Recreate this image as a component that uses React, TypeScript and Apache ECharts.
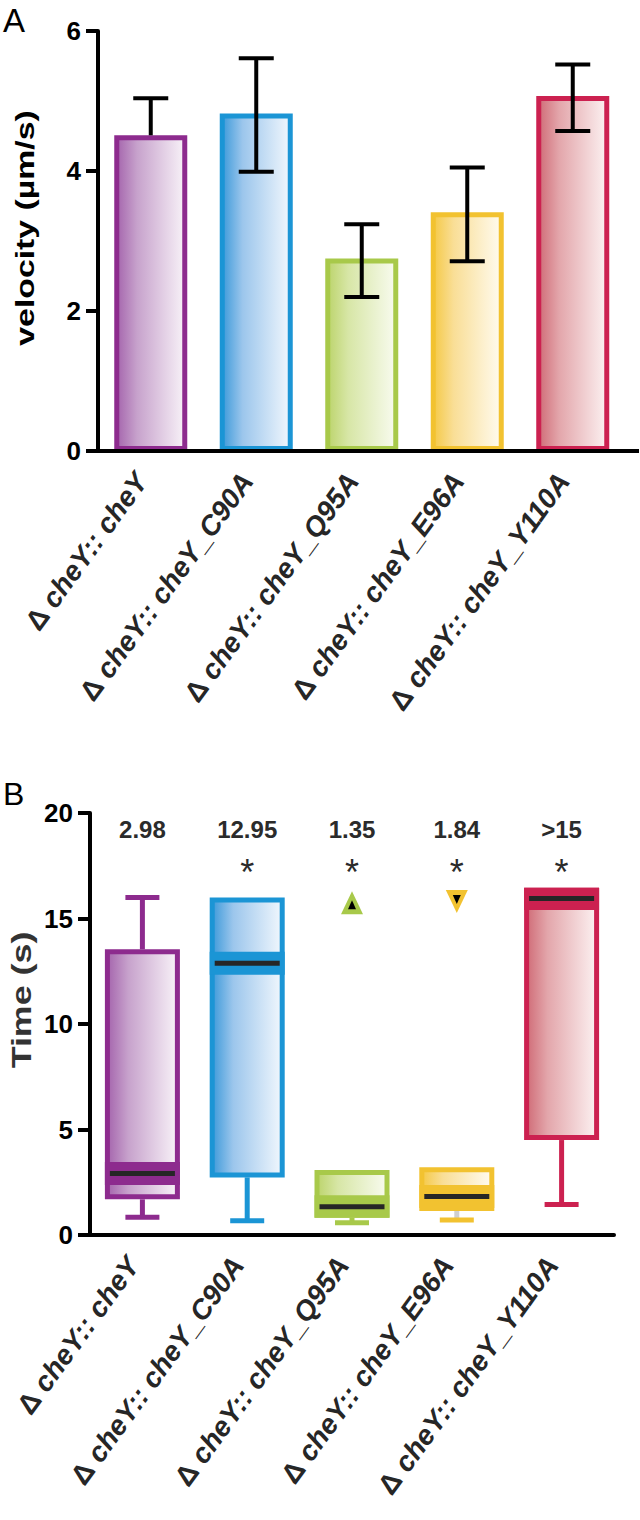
import React, { useEffect, useRef } from 'react';
import * as echarts from 'echarts';

// ---------- DATA ----------
const categories = [
  'Δ cheY:: cheY',
  'Δ cheY:: cheY_C90A',
  'Δ cheY:: cheY_Q95A',
  'Δ cheY:: cheY_E96A',
  'Δ cheY:: cheY_Y110A',
];

// Panel A: velocity (µm/s)
const velocity = [4.51, 4.82, 2.75, 3.41, 5.07];
const velErrLow = [4.51, 3.99, 2.2, 2.71, 4.57];
const velErrHigh = [5.04, 5.61, 3.24, 4.05, 5.52];

// Panel B: Time (s) box plots
const timeMin = [0.84, 0.68, 0.58, 0.71, 1.45];
const timeQ1 = [1.69, 2.73, 0.82, 1.14, 4.5];
const timeMedian = [2.92, 12.88, 1.34, 1.82, 15.95];
const timeQ3 = [13.54, 16.0, 3.08, 3.21, 16.46];
const timeMax = [16.0, 16.0, 3.08, 3.21, 16.46];
const medianLabels = ['2.98', '12.95', '1.35', '1.84', '>15'];
const significant = [false, true, true, true, true];
const outlierUp = [[2, 15.75]];
const outlierDown = [[3, 15.8]];

// ---------- STYLES ----------
const borderColors = ['#8D2B8E', '#1B95D5', '#A8C94A', '#F2C230', '#CC2150'];
const gradStops = [
  ['#A565AD', '#C7A2CC', '#F8F2F8'],
  ['#3D9ADA', '#9CC6EC', '#F1F7FD'],
  ['#BCD46C', '#D7E6A6', '#F8FBEF'],
  ['#F5C946', '#F9DE96', '#FFFBF0'],
  ['#D06C77', '#E3A6AB', '#FCF1F1'],
];
const stemColors = ['#8D2B8E', '#1B95D5', '#A8C94A', '#CFCFCF', '#CC2150'];

const FONT = '"Liberation Sans", Arial, Helvetica, sans-serif';

function grad(i: number) {
  const s = gradStops[i];
  return new echarts.graphic.LinearGradient(0, 0, 1, 0, [
    { offset: 0, color: s[0] },
    { offset: 0.3, color: s[1] },
    { offset: 1, color: s[2] },
  ]);
}

const xLabel = (rot: number, margin: number) => ({
  interval: 0,
  rotate: rot,
  margin,
  formatter: (v: string) => `{d|${v.slice(0, 1)}}{i| ${v.slice(2)}}`,
  rich: {
    d: { fontFamily: FONT, fontSize: 28, fontWeight: 'bold', color: '#262626' },
    i: {
      fontFamily: FONT,
      fontSize: 28,
      fontWeight: 'bold',
      fontStyle: 'italic',
      color: '#262626',
      padding: [0, 16, 0, 0],
    },
  },
});

export default function App() {
  const ref = useRef<HTMLDivElement>(null);
  useEffect(() => {
    if (!ref.current) return;
    const chart = echarts.init(ref.current, undefined, { renderer: 'svg' });

    const axisLineStyle = { color: '#000', width: 4 };

    const annotationLabel = (extra: any) => ({
      show: true,
      position: 'inside',
      fontFamily: FONT,
      color: '#2b2b2b',
      textBorderWidth: 0,
      ...extra,
    });

    const option: any = {
      animation: false,
      backgroundColor: '#fff',
      grid: [
        { left: 98, top: 31, width: 527.5, height: 420 },
        { left: 90, top: 813, width: 524, height: 422 },
      ],
      xAxis: [
        {
          gridIndex: 0,
          type: 'category',
          data: categories,
          z: 10,
          axisLine: { lineStyle: axisLineStyle },
          axisTick: { alignWithLabel: true, length: 12, lineStyle: { color: '#000', width: 4 } },
          axisLabel: xLabel(54, 12),
        },
        {
          gridIndex: 1,
          type: 'category',
          data: categories,
          z: 10,
          axisLine: { lineStyle: axisLineStyle },
          axisTick: { alignWithLabel: true, length: 12, lineStyle: { color: '#000', width: 4 } },
          axisLabel: xLabel(54, 12),
        },
      ],
      yAxis: [
        {
          gridIndex: 0,
          type: 'value',
          min: 0,
          max: 6,
          interval: 2,
          z: 10,
          splitLine: { show: false },
          axisLine: { show: true, lineStyle: axisLineStyle },
          axisTick: { show: true, length: 12, lineStyle: { color: '#000', width: 4 } },
          axisLabel: { fontFamily: FONT, fontSize: 26, fontWeight: 'bold', color: '#000', margin: 17 },
        },
        {
          gridIndex: 1,
          type: 'value',
          min: 0,
          max: 20,
          interval: 5,
          z: 10,
          splitLine: { show: false },
          axisLine: { show: true, lineStyle: axisLineStyle },
          axisTick: { show: true, length: 12, lineStyle: { color: '#000', width: 4 } },
          axisLabel: { fontFamily: FONT, fontSize: 26, fontWeight: 'bold', color: '#000', margin: 17 },
        },
      ],
      series: [
        {
          type: 'bar',
          xAxisIndex: 0,
          yAxisIndex: 0,
          barWidth: 73,
          data: velocity.map((v, i) => ({
            value: v,
            itemStyle: { color: grad(i), borderColor: borderColors[i], borderWidth: 5 },
          })),
        },
        {
          type: 'custom',
          xAxisIndex: 0,
          yAxisIndex: 0,
          z: 5,
          data: velocity.map((v, i) => [i, velErrLow[i], velErrHigh[i]]),
          renderItem: (params: any, api: any) => {
            const i = api.value(0);
            const lo = api.coord([i, api.value(1)]);
            const hi = api.coord([i, api.value(2)]);
            const cx = lo[0];
            const style = { stroke: '#000', lineWidth: 4 };
            const children: any[] = [
              { type: 'line', shape: { x1: cx, y1: lo[1], x2: cx, y2: hi[1] }, style },
              { type: 'line', shape: { x1: cx - 17.5, y1: hi[1], x2: cx + 17.5, y2: hi[1] }, style },
            ];
            if (api.value(1) < velocity[i] - 0.001) {
              children.push({ type: 'line', shape: { x1: cx - 17.5, y1: lo[1], x2: cx + 17.5, y2: lo[1] }, style });
            }
            return { type: 'group', children };
          },
        },
        {
          type: 'custom',
          xAxisIndex: 1,
          yAxisIndex: 1,
          z: 4,
          data: categories.map((c, i) => [i, timeMin[i], timeQ1[i], timeMedian[i], timeQ3[i], timeMax[i]]),
          renderItem: (params: any, api: any) => {
            const i = api.value(0);
            const pMin = api.coord([i, api.value(1)]);
            const cx = pMin[0];
            const yMin = pMin[1];
            const yQ1 = api.coord([i, api.value(2)])[1];
            const yMed = api.coord([i, api.value(3)])[1];
            const yQ3 = api.coord([i, api.value(4)])[1];
            const yMax = api.coord([i, api.value(5)])[1];
            const half = 37.5;
            const bw = 5;
            const col = borderColors[i];
            const children: any[] = [];
            if (yMin > yQ1 + 0.5) {
              children.push({ type: 'line', shape: { x1: cx, y1: yQ1, x2: cx, y2: yMin }, style: { stroke: stemColors[i], lineWidth: 5 } });
              children.push({ type: 'line', shape: { x1: cx - 17, y1: yMin, x2: cx + 17, y2: yMin }, style: { stroke: col, lineWidth: 5 } });
            }
            if (yMax < yQ3 - 0.5) {
              children.push({ type: 'line', shape: { x1: cx, y1: yQ3, x2: cx, y2: yMax }, style: { stroke: col, lineWidth: 5 } });
              children.push({ type: 'line', shape: { x1: cx - 17, y1: yMax, x2: cx + 17, y2: yMax }, style: { stroke: col, lineWidth: 5 } });
            }
            children.push({
              type: 'rect',
              shape: { x: cx - half + bw / 2, y: yQ3 + bw / 2, width: 2 * half - bw, height: yQ1 - yQ3 - bw },
              style: { fill: grad(i), stroke: col, lineWidth: bw },
            });
            const bTop = Math.max(yQ3, yMed - 11.5);
            const bBot = Math.min(yQ1, yMed + 11.5);
            children.push({
              type: 'rect',
              shape: { x: cx - half, y: bTop, width: 2 * half, height: bBot - bTop },
              style: { fill: col },
            });
            children.push({
              type: 'rect',
              shape: { x: cx - half + bw, y: yMed - 2.5, width: 2 * half - 2 * bw, height: 5 },
              style: { fill: '#262626' },
            });
            return { type: 'group', children };
          },
        },
        {
          type: 'scatter',
          xAxisIndex: 1,
          yAxisIndex: 1,
          z: 6,
          symbol: 'triangle',
          symbolSize: [22, 23],
          itemStyle: { color: borderColors[2], opacity: 1 },
          data: outlierUp,
        },
        {
          type: 'scatter',
          xAxisIndex: 1,
          yAxisIndex: 1,
          z: 7,
          symbol: 'triangle',
          symbolSize: [8, 9],
          symbolOffset: [0, 2],
          itemStyle: { color: '#000', opacity: 1 },
          data: outlierUp,
        },
        {
          type: 'scatter',
          xAxisIndex: 1,
          yAxisIndex: 1,
          z: 6,
          symbol: 'triangle',
          symbolRotate: 180,
          symbolSize: [22, 23],
          itemStyle: { color: borderColors[3], opacity: 1 },
          data: outlierDown,
        },
        {
          type: 'scatter',
          xAxisIndex: 1,
          yAxisIndex: 1,
          z: 7,
          symbol: 'triangle',
          symbolRotate: 180,
          symbolSize: [8, 9],
          symbolOffset: [0, -2],
          itemStyle: { color: '#000', opacity: 1 },
          data: outlierDown,
        },
        {
          type: 'scatter',
          xAxisIndex: 1,
          yAxisIndex: 1,
          symbolSize: 0,
          itemStyle: { color: '#2b2b2b', opacity: 1 },
          label: annotationLabel({
            formatter: (p: any) => p.name,
            fontSize: 24,
            fontWeight: 'bold',
          }),
          data: medianLabels.map((t, i) => ({ name: t, value: [i, 19.2] })),
        },
        {
          type: 'scatter',
          xAxisIndex: 1,
          yAxisIndex: 1,
          symbolSize: 0,
          itemStyle: { color: '#2b2b2b', opacity: 1 },
          label: annotationLabel({
            formatter: '*',
            fontSize: 36,
            offset: [0, 7],
          }),
          data: significant
            .map((s, i) => (s ? { value: [i, 17.5] } : null))
            .filter((d) => d !== null),
        },
      ],
      graphic: [
        {
          type: 'line',
          shape: { x1: 624, y1: 451, x2: 639, y2: 451 },
          style: { stroke: '#000', lineWidth: 4 },
        },
        {
          type: 'text',
          x: 3,
          y: 4,
          style: { text: 'A', fontFamily: FONT, fontSize: 33, fill: '#000' },
        },
        {
          type: 'text',
          x: 3,
          y: 778,
          style: { text: 'B', fontFamily: FONT, fontSize: 32, fill: '#000' },
        },
        {
          type: 'text',
          x: 25,
          y: 228,
          rotation: Math.PI / 2,
          scaleX: 1.3,
          style: {
            text: 'velocity (µm/s)',
            fontFamily: FONT,
            fontSize: 26,
            fontWeight: 'bold',
            fill: '#000',
            align: 'center',
            verticalAlign: 'middle',
          },
        },
        {
          type: 'text',
          x: 21,
          y: 1000,
          rotation: Math.PI / 2,
          scaleX: 1.28,
          style: {
            text: 'Time (s)',
            fontFamily: FONT,
            fontSize: 28,
            fontWeight: 'bold',
            fill: '#333',
            align: 'center',
            verticalAlign: 'middle',
          },
        },
      ],
    };

    chart.setOption(option);
    return () => chart.dispose();
  }, []);

  return (
    <div
      ref={ref}
      style={{ position: 'absolute', left: 0, top: 0, width: 640, height: 1520, background: '#fff' }}
    />
  );
}
